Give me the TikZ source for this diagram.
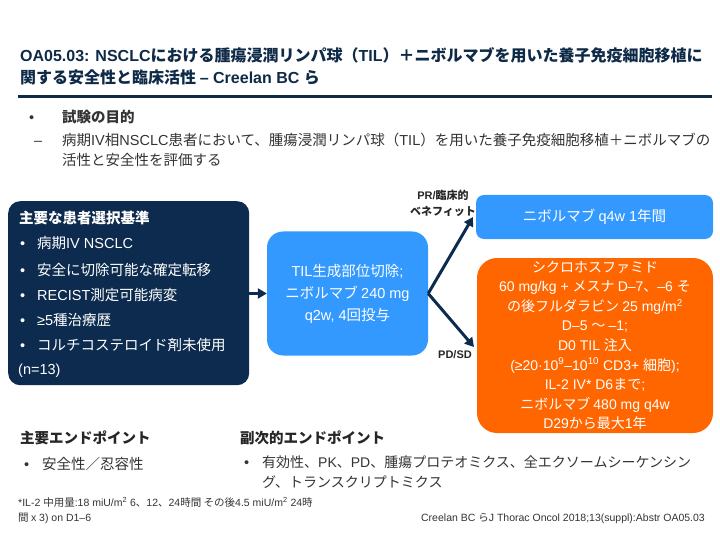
\documentclass[tikz,border=0pt]{standalone}
\usepackage{fontspec}
\usetikzlibrary{arrows.meta}
\setmainfont{Liberation Sans}
\newfontfamily\jpfam{Noto Sans CJK JP}
\newfontfamily\latfam{Liberation Sans}
\XeTeXinterchartokenstate=1
\newXeTeXintercharclass\CJKcls
\newcount\cjkcc
\def\setcjkrange#1#2{\cjkcc=#1\relax\loop\XeTeXcharclass\cjkcc=\CJKcls\relax\ifnum\cjkcc<#2\relax\advance\cjkcc by 1\relax\repeat}
\setcjkrange{"3000}{"30FF}
\setcjkrange{"4E00}{"9FFF}
\setcjkrange{"FF00}{"FFEF}
\XeTeXinterchartoks 0 \CJKcls = {\jpfam}
\XeTeXinterchartoks 4095 \CJKcls = {\jpfam}
\XeTeXinterchartoks \CJKcls 0 = {\latfam}
\XeTeXinterchartoks 4095 0 = {\latfam}
\definecolor{navy}{HTML}{0C2B4E}
\definecolor{bblue}{HTML}{3399FF}
\definecolor{orng}{HTML}{FF6600}
\definecolor{txt}{HTML}{333333}
\definecolor{ttl}{HTML}{0E2A47}
\tikzset{
  fs/.style={font=\fontsize{#1}{#1}\selectfont},
  lbl/.style={anchor=base west, inner sep=0pt, text=txt},
  wlbl/.style={anchor=base west, inner sep=0pt, text=white, fs=14.5},
  conn/.style={draw=navy, line width=3pt, -{Triangle[length=9pt,width=10pt]}},
}
\begin{document}
\begin{tikzpicture}[x=1pt,y=-1pt]
\useasboundingbox (0,0) rectangle (720,540);
% title
\node[lbl, text=ttl, fs=16, font=\fontsize{16}{16}\selectfont\bfseries] (t1) at (20,62) {OA05.03: NSCLCにおける腫瘍浸潤リンパ球（TIL）＋ニボルマブを用いた養子免疫細胞移植に};
\node[lbl, text=ttl, font=\fontsize{16}{16}\selectfont\bfseries] (t2) at (20,84) {関する安全性と臨床活性 – Creelan BC ら};
\draw[ttl, line width=3pt] (18,97) -- (712,97);
% objective
\node[lbl, font=\fontsize{14.5}{14.5}\selectfont] (ob) at (29,123) {•};
\node[lbl, font=\fontsize{14.5}{14.5}\selectfont\bfseries] (obt) at (62,123) {試験の目的};
\node[lbl, font=\fontsize{14.5}{14.5}\selectfont] (od) at (34,146) {–};
\node[lbl, font=\fontsize{14.5}{14.5}\selectfont] (o1) at (62,146) {病期IV相NSCLC患者において、腫瘍浸潤リンパ球（TIL）を用いた養子免疫細胞移植＋ニボルマブの};
\node[lbl, font=\fontsize{14.5}{14.5}\selectfont] (o2) at (62,166) {活性と安全性を評価する};
% left box
\node[fill=navy, rounded corners=12pt, minimum width=241pt, minimum height=184pt, anchor=north west, inner sep=0pt] (crit) at (8,201) {};
\node[wlbl, font=\fontsize{14.5}{14.5}\selectfont\bfseries] (c0) at (19,223) {主要な患者選択基準};
\node[wlbl] (b1) at (20,248) {•};
\node[wlbl] (c1) at (37,248) {病期IV NSCLC};
\node[wlbl] (b2) at (20,275) {•};
\node[wlbl] (c2) at (37,275) {安全に切除可能な確定転移};
\node[wlbl] (b3) at (20,300) {•};
\node[wlbl] (c3) at (37,300) {RECIST測定可能病変};
\node[wlbl] (b4) at (20,325) {•};
\node[wlbl] (c4) at (37,325) {≥5種治療歴};
\node[wlbl] (b5) at (20,350) {•};
\node[wlbl] (c5) at (37,350) {コルチコステロイド剤未使用};
\node[wlbl] (c6) at (18,374) {(n=13)};
% TIL box
\node[fill=bblue, rounded corners=16pt, minimum width=161pt, minimum height=124pt, inner sep=0pt, text=white, align=center, font=\fontsize{14.5}{22}\selectfont] (til) at (347.5,293.5) {TIL生成部位切除;\\ニボルマブ 240 mg\\q2w, 4回投与};
% right boxes
\node[fill=bblue, rounded corners=8pt, minimum width=237pt, minimum height=44pt, inner sep=0pt, text=white, font=\fontsize{14.5}{14.5}\selectfont] (nivo) at (594.5,217) {ニボルマブ q4w 1年間};
\node[fill=orng, rounded corners=20pt, minimum width=236pt, minimum height=175pt, inner sep=0pt, text=white, align=center, font=\fontsize{14}{19.6}\selectfont] (cyc) at (595,345.5) {シクロホスファミド\\60 mg/kg + メスナ D–7、–6 そ\\の後フルダラビン 25 mg/m\textsuperscript{2}\\D–5 ～ –1;\\D0 TIL 注入\\(≥20·10\textsuperscript{9}–10\textsuperscript{10} CD3+ 細胞);\\IL-2 IV* D6まで;\\ニボルマブ 480 mg q4w\\D29から最大1年};
% connectors
\coordinate (upend) at (473,217);
\coordinate (dnend) at (474,347);
\draw[conn] (crit.east |- til.west) -- (til.west);
\draw[conn] (til.east) -- (upend);
\draw[conn] (til.east) -- (dnend);
\node[inner sep=0pt, align=center, text=black!85, font=\fontsize{11}{16}\selectfont\bfseries] (pr) at (443,203) {PR/臨床的\\ベネフィット};
\node[inner sep=0pt, text=black!85, font=\fontsize{11}{11}\selectfont\bfseries] (pd) at (455,355) {PD/SD};
% endpoints
\node[lbl, text=black!85, font=\fontsize{14.5}{14.5}\selectfont\bfseries] (pe) at (20,443) {主要エンドポイント};
\node[lbl, font=\fontsize{14.5}{14.5}\selectfont] (pb) at (24,469) {•};
\node[lbl, font=\fontsize{14.5}{14.5}\selectfont] (p1) at (42,469) {安全性／忍容性};
\node[lbl, text=black!85, font=\fontsize{14.5}{14.5}\selectfont\bfseries] (se) at (240,443) {副次的エンドポイント};
\node[lbl, font=\fontsize{14.5}{14.5}\selectfont] (sb) at (244,467) {•};
\node[lbl, font=\fontsize{14}{14}\selectfont] (s1) at (262,467) {有効性、PK、PD、腫瘍プロテオミクス、全エクソームシーケンシン};
\node[lbl, font=\fontsize{14}{14}\selectfont] (s2) at (262,487) {グ、トランスクリプトミクス};
% footnote
\node[lbl, font=\fontsize{10.5}{10.5}\selectfont] (f1) at (18,506) {*IL-2 中用量:18 miU/m\textsuperscript{2} 6、12、24時間 その後4.5 miU/m\textsuperscript{2} 24時};
\node[lbl, font=\fontsize{10.5}{10.5}\selectfont] (f2) at (18,521) {間 x 3) on D1–6};
\node[anchor=base east, inner sep=0pt, text=txt, font=\fontsize{10.5}{10.5}\selectfont] (cit) at (705,521) {Creelan BC らJ Thorac Oncol 2018;13(suppl):Abstr OA05.03};
\end{tikzpicture}
\end{document}
